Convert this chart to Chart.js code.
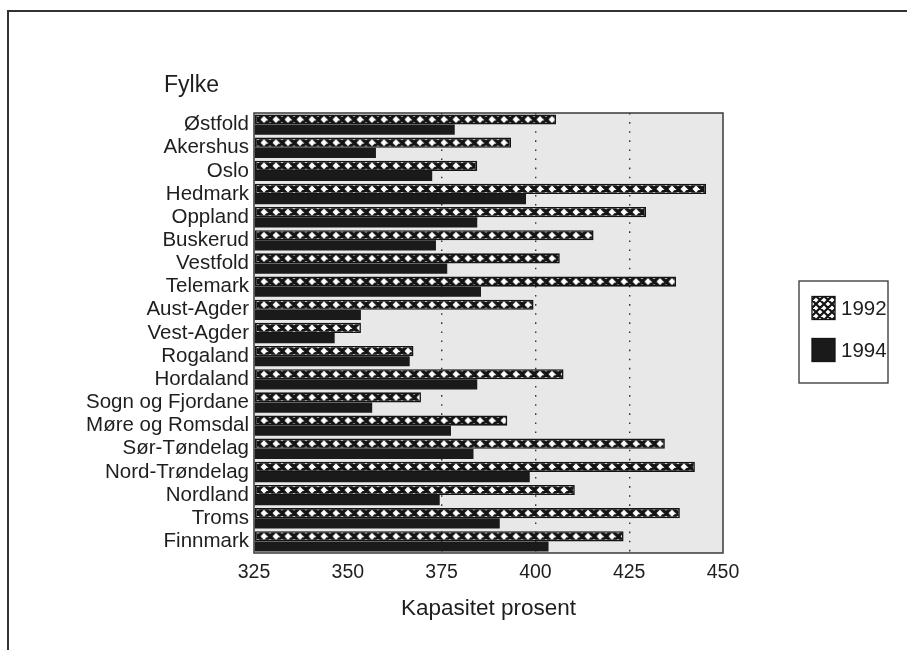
<!DOCTYPE html>
<html><head><meta charset="utf-8">
<script src="https://cdn.jsdelivr.net/npm/chart.js@4.4.1/dist/chart.umd.min.js"></script>
<style>
html,body{margin:0;padding:0;background:#fff;overflow:hidden}
#wrap{position:relative;width:907px;height:650px}
canvas{display:block}
</style></head><body>
<div id="wrap"><canvas id="c" width="907" height="650"></canvas></div>
<script>
// ---- data ----
const fylker = ['Østfold','Akershus','Oslo','Hedmark','Oppland','Buskerud','Vestfold','Telemark','Aust-Agder','Vest-Agder','Rogaland','Hordaland','Sogn og Fjordane','Møre og Romsdal','Sør-Tøndelag','Nord-Trøndelag','Nordland','Troms','Finnmark'];
const verdier1992 = [405.5, 393.5, 384.5, 445.5, 429.5, 415.5, 406.5, 437.5, 399.5, 353.5, 367.5, 407.5, 369.5, 392.5, 434.5, 442.5, 410.5, 438.5, 423.5];
const verdier1994 = [378.5, 357.5, 372.5, 397.5, 384.5, 373.5, 376.5, 385.5, 353.5, 346.5, 366.5, 384.5, 356.5, 377.5, 383.5, 398.5, 374.5, 390.5, 403.5];
const serieNavn = ['1992', '1994'];
const xMin = 325, xMax = 450, xSteg = 25;
const prikkLinjer = [375, 400, 425];
const yTittel = 'Fylke';
const xTittel = 'Kapasitet prosent';

// ---- styling helpers ----
const FONT = "'Liberation Sans', Arial, Helvetica, sans-serif";
const TXT = '#1e1e1e';
const CAT_PCT = 0.88;

function hatchTile(size, lw){
  const t = document.createElement('canvas'); t.width = size; t.height = size;
  const g = t.getContext('2d');
  g.fillStyle = '#fff'; g.fillRect(0,0,size,size);
  g.strokeStyle = '#141414'; g.lineWidth = lw; g.beginPath();
  for (const o of [-size, 0, size]) {
    g.moveTo(o, 0); g.lineTo(o+size, size);
    g.moveTo(o+size, 0); g.lineTo(o, size);
  }
  g.stroke();
  return t;
}
const barTile = hatchTile(12, 3.4);
const legTile = hatchTile(8, 2.2);
const ctx0 = document.getElementById('c').getContext('2d');
const basePattern = ctx0.createPattern(barTile, 'repeat');
const patCache = {};
function hatchFor(c){
  const ch = c.chart, ys = ch.scales && ch.scales.y;
  if (!ys || c.type !== 'data' || !ys.height) return basePattern;
  const cat = ys.height / fylker.length;
  const yc = ys.getPixelForValue(c.dataIndex) - cat * CAT_PCT / 4;
  const key = c.dataIndex + ':' + yc.toFixed(2);
  if (!patCache[key]) {
    const p = ch.ctx.createPattern(barTile, 'repeat');
    p.setTransform(new DOMMatrix([1,0,0,1,0,yc-6]));
    patCache[key] = p;
  }
  return patCache[key];
}

const deco = {
  id: 'deco',
  beforeDraw(chart){
    const {ctx, chartArea:a} = chart;
    ctx.save();
    ctx.fillStyle = '#e8e8e8';
    ctx.fillRect(a.left, a.top, a.right-a.left, a.bottom-a.top);
    ctx.restore();
  },
  afterDraw(chart){
    const {ctx, chartArea:a} = chart;
    ctx.save();
    // plot frame
    ctx.strokeStyle = '#3a3a3a'; ctx.lineWidth = 1.5;
    ctx.strokeRect(a.left, a.top, a.right-a.left, a.bottom-a.top);
    // outer frame (top and left edges visible)
    ctx.strokeStyle = '#333'; ctx.lineWidth = 2;
    ctx.beginPath(); ctx.moveTo(8, 660); ctx.lineTo(8, 11); ctx.lineTo(920, 11); ctx.stroke();
    // y-axis title
    ctx.fillStyle = TXT; ctx.font = "23px " + FONT;
    ctx.textAlign = 'left'; ctx.textBaseline = 'alphabetic';
    ctx.fillText(yTittel, 164, 92);
    // legend
    const lx = 799, ly = 281, lw = 89, lh = 102;
    ctx.fillStyle = '#fff'; ctx.fillRect(lx, ly, lw, lh);
    ctx.strokeStyle = '#333'; ctx.lineWidth = 1.3;
    ctx.strokeRect(lx, ly, lw, lh);
    const ds = chart.data.datasets;
    const rows = [308, 350];
    ds.forEach((d, i) => {
      const sy = rows[i] - 11.5;
      if (i === 0) {
        ctx.fillStyle = ctx.createPattern(legTile, 'repeat');
      } else {
        ctx.fillStyle = d.backgroundColor;
      }
      ctx.fillRect(812, sy, 23, 23);
      ctx.strokeStyle = '#141414'; ctx.lineWidth = 1.3;
      ctx.strokeRect(812, sy, 23, 23);
      ctx.fillStyle = TXT; ctx.font = "20.5px " + FONT;
      ctx.textAlign = 'left'; ctx.textBaseline = 'middle';
      ctx.fillText(d.label, 841, rows[i] + 1);
    });
    ctx.restore();
  }
};

new Chart(document.getElementById('c'), {
  type: 'bar',
  data: {
    labels: fylker,
    datasets: [
      { label: serieNavn[0], data: verdier1992, base: xMin,
        backgroundColor: hatchFor, borderColor: '#141414', borderWidth: 1.6, borderSkipped: false },
      { label: serieNavn[1], data: verdier1994, base: xMin,
        backgroundColor: '#1a1a1a', borderColor: '#1a1a1a', borderWidth: 0 }
    ]
  },
  options: {
    indexAxis: 'y',
    responsive: false,
    animation: false,
    devicePixelRatio: 1,
    categoryPercentage: CAT_PCT,
    barPercentage: 1.0,
    layout: { padding: { top: 113, right: 184, left: 0, bottom: 0 } },
    plugins: { legend: { display: false }, tooltip: { enabled: false } },
    scales: {
      x: {
        type: 'linear', min: xMin, max: xMax,
        afterFit(s){ s.height = 97; },
        ticks: { stepSize: xSteg, color: TXT, font: { family: FONT, size: 19.5 }, padding: 8, maxRotation: 0 },
        grid: {
          drawTicks: false, lineWidth: 1.4,
          color: (c) => (c.tick && prikkLinjer.includes(c.tick.value)) ? '#333' : 'rgba(0,0,0,0)'
        },
        border: { display: false, dash: [1.6, 7.5] },
        title: { display: true, text: xTittel, color: TXT, font: { family: FONT, size: 22.5 }, padding: { top: 0, bottom: 28 } }
      },
      y: {
        afterFit(s){ s.width = 254; },
        ticks: { color: TXT, font: { family: FONT, size: 20.5 }, padding: 5, autoSkip: false },
        grid: { display: false, drawTicks: false },
        border: { display: false }
      }
    }
  },
  plugins: [deco]
});
</script>
</body></html>
